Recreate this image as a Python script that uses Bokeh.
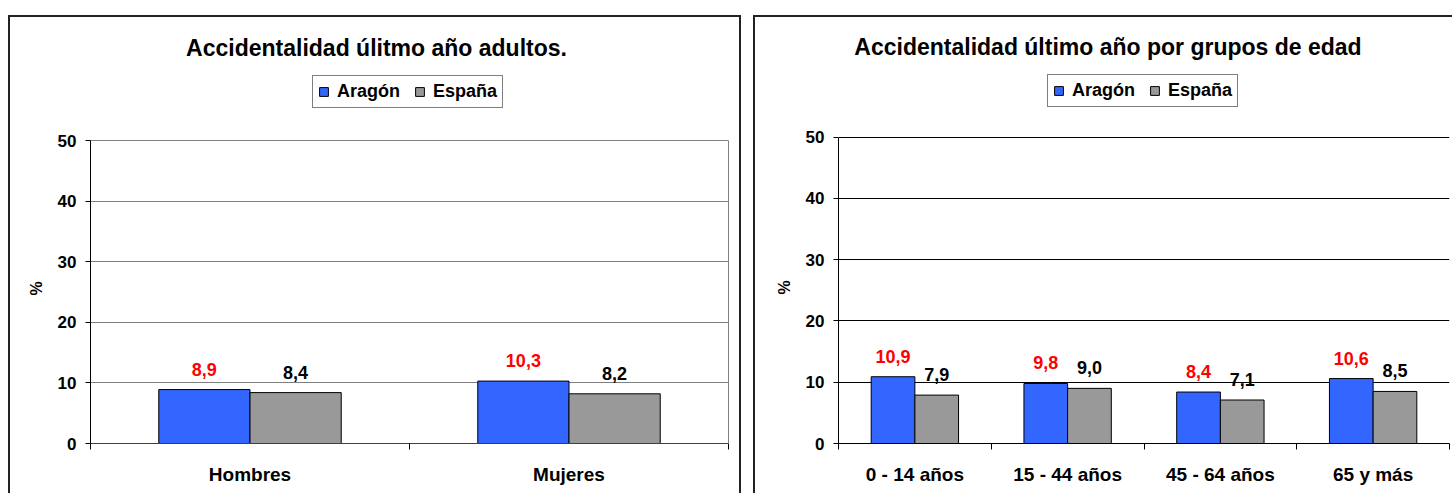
from bokeh.plotting import figure
from bokeh.models import (FixedTicker, Legend, LegendItem, ColumnDataSource,
                          LabelSet, Label, Range1d, LinearAxis, Title)
from bokeh.core.properties import value
from bokeh.transform import dodge
from bokeh.layouts import row
from bokeh.embed import file_html
from bokeh.resources import INLINE

series = ["Aragón", "España"]
series_colors = ["#3366FF", "#999999"]
label_colors = ["#FF0000", "#000000"]

title_left = "Accidentalidad úlitmo año adultos."
sexo_cats = ["Hombres", "Mujeres"]
sexo_aragon = [8.9, 10.3]
sexo_espana = [8.4, 8.2]

title_right = "Accidentalidad último año por grupos de edad"
edad_cats = ["0 - 14 años", "15 - 44 años", "45 - 64 años", "65 y más"]
edad_aragon = [10.9, 9.8, 8.4, 10.6]
edad_espana = [7.9, 9.0, 7.1, 8.5]

y_ticks = [0, 10, 20, 30, 40, 50]
y_label = "%"

FONT = "Liberation Sans"
BAR_W = 0.286


def fmt(v):
    return f"{v:.1f}".replace(".", ",")


def make_chart(title, cats, aragon, espana, width, height, borders, frame_px,
               grid_color, xaxis_color, right_line, title_pos,
               legend_loc, ylabel_offset, margin):
    n = len(cats)
    centers = [i + 0.5 for i in range(n)]
    # frame_px = (pixel height of whole frame, pixel height of the 0-50 band)
    ymax = y_ticks[-1] * frame_px[0] / frame_px[1]
    p = figure(width=width, height=height, output_backend="svg",
               toolbar_location=None, x_range=Range1d(0, n),
               y_range=Range1d(0, ymax), margin=margin,
               styles={"outline": "2px solid #222"})
    p.min_border_left, p.min_border_right, p.min_border_top, p.min_border_bottom = borders

    tl = Label(x=n / 2, y=ymax, x_offset=title_pos[0], y_offset=title_pos[1],
               text=title, text_align="center", text_baseline="alphabetic",
               text_font=FONT, text_font_style="bold", text_font_size="23px",
               text_color="black")
    p.add_layout(tl)

    src = ColumnDataSource(dict(x=centers, aragon=aragon, espana=espana,
                                la=[fmt(v) for v in aragon],
                                le=[fmt(v) for v in espana]))
    rs = []
    for key, lab, off, col, lcol in [("aragon", "la", -BAR_W / 2, series_colors[0], label_colors[0]),
                                     ("espana", "le", BAR_W / 2, series_colors[1], label_colors[1])]:
        r = p.vbar(x=dodge("x", off, range=p.x_range), top=key, width=BAR_W,
                   source=src, fill_color=col, line_color="black", line_width=1)
        rs.append(r)
        ls = LabelSet(x=dodge("x", off, range=p.x_range), y=key, text=lab,
                      source=src, text_align="center", text_baseline="alphabetic",
                      y_offset=14, text_color=lcol, text_font_size=value("18px"),
                      text_font_style=value("bold"), text_font=value(FONT))
        p.add_layout(ls)

    legend = Legend(items=[LegendItem(label=series[0], renderers=[rs[0]]),
                           LegendItem(label=series[1], renderers=[rs[1]])],
                    orientation="horizontal", location=legend_loc,
                    label_text_font=FONT, label_text_font_style="bold",
                    label_text_font_size="18px", label_text_color="black",
                    glyph_width=11, glyph_height=11,
                    label_standoff=8, spacing=14, padding=5, margin=0,
                    border_line_color="black", border_line_width=1,
                    background_fill_color="white", background_fill_alpha=1)
    p.add_layout(legend, "center")

    # x axis: labels at category centres, ticks at category boundaries
    p.xaxis.ticker = FixedTicker(ticks=centers, minor_ticks=list(range(n + 1)))
    p.xaxis.bounds = (0, n)
    p.xaxis.major_label_overrides = {c: cat for c, cat in zip(centers, cats)}
    p.xaxis.major_tick_out = 0
    p.xaxis.major_tick_in = 0
    p.xaxis.minor_tick_out = 6
    p.xaxis.minor_tick_in = 0
    p.xaxis.minor_tick_line_color = "black"
    p.xaxis.axis_line_color = xaxis_color
    p.xaxis.major_label_text_font = FONT
    p.xaxis.major_label_text_font_style = "bold"
    p.xaxis.major_label_text_font_size = "19px"
    p.xaxis.major_label_text_color = "black"
    p.xaxis.major_label_standoff = 14

    p.yaxis.ticker = FixedTicker(ticks=y_ticks)
    p.yaxis.bounds = (y_ticks[0], y_ticks[-1])
    p.yaxis.major_tick_out = 5
    p.yaxis.major_tick_in = 0
    p.yaxis.minor_tick_line_color = None
    p.yaxis.axis_line_color = "black"
    p.yaxis.major_label_text_font = FONT
    p.yaxis.major_label_text_font_style = "bold"
    p.yaxis.major_label_text_font_size = "17px"
    p.yaxis.major_label_text_color = "black"
    p.yaxis.major_label_standoff = 9

    # y-axis title "%" placed beside the 0-50 band
    yt = Title(text=y_label, align="left", offset=ylabel_offset, standoff=20,
               text_font=FONT, text_font_style="bold", text_font_size="16px",
               text_color="black")
    p.add_layout(yt, "left")

    if right_line:
        ra = LinearAxis(ticker=FixedTicker(ticks=[]), bounds=(y_ticks[0], y_ticks[-1]),
                        axis_line_color=right_line, major_tick_line_color=None,
                        minor_tick_line_color=None, major_label_text_font_size="0px")
        p.add_layout(ra, "right")

    p.xgrid.grid_line_color = None
    p.ygrid.grid_line_color = grid_color
    p.ygrid.grid_line_width = 1
    p.outline_line_color = None
    p.background_fill_color = "white"
    p.border_fill_color = "white"
    return p


p1 = make_chart(title_left, sexo_cats, sexo_aragon, sexo_espana,
                width=729, height=476, borders=(80, 11, 0, 50), frame_px=(426, 303),
                grid_color="#808080", xaxis_color="#404040", right_line="#808080",
                title_pos=(-33, -30), legend_loc=(222, 335), ylabel_offset=148,
                margin=(17, 0, 0, 10))
p2 = make_chart(title_right, edad_cats, edad_aragon, edad_espana,
                width=697, height=476, borders=(83, 3, 0, 49), frame_px=(427, 307),
                grid_color="black", xaxis_color="black", right_line=None,
                title_pos=(-36, -29), legend_loc=(209, 336), ylabel_offset=149,
                margin=(17, 0, 0, 16))

layout = row(p1, p2)
open("out.html", "w").write(file_html(layout, INLINE))
